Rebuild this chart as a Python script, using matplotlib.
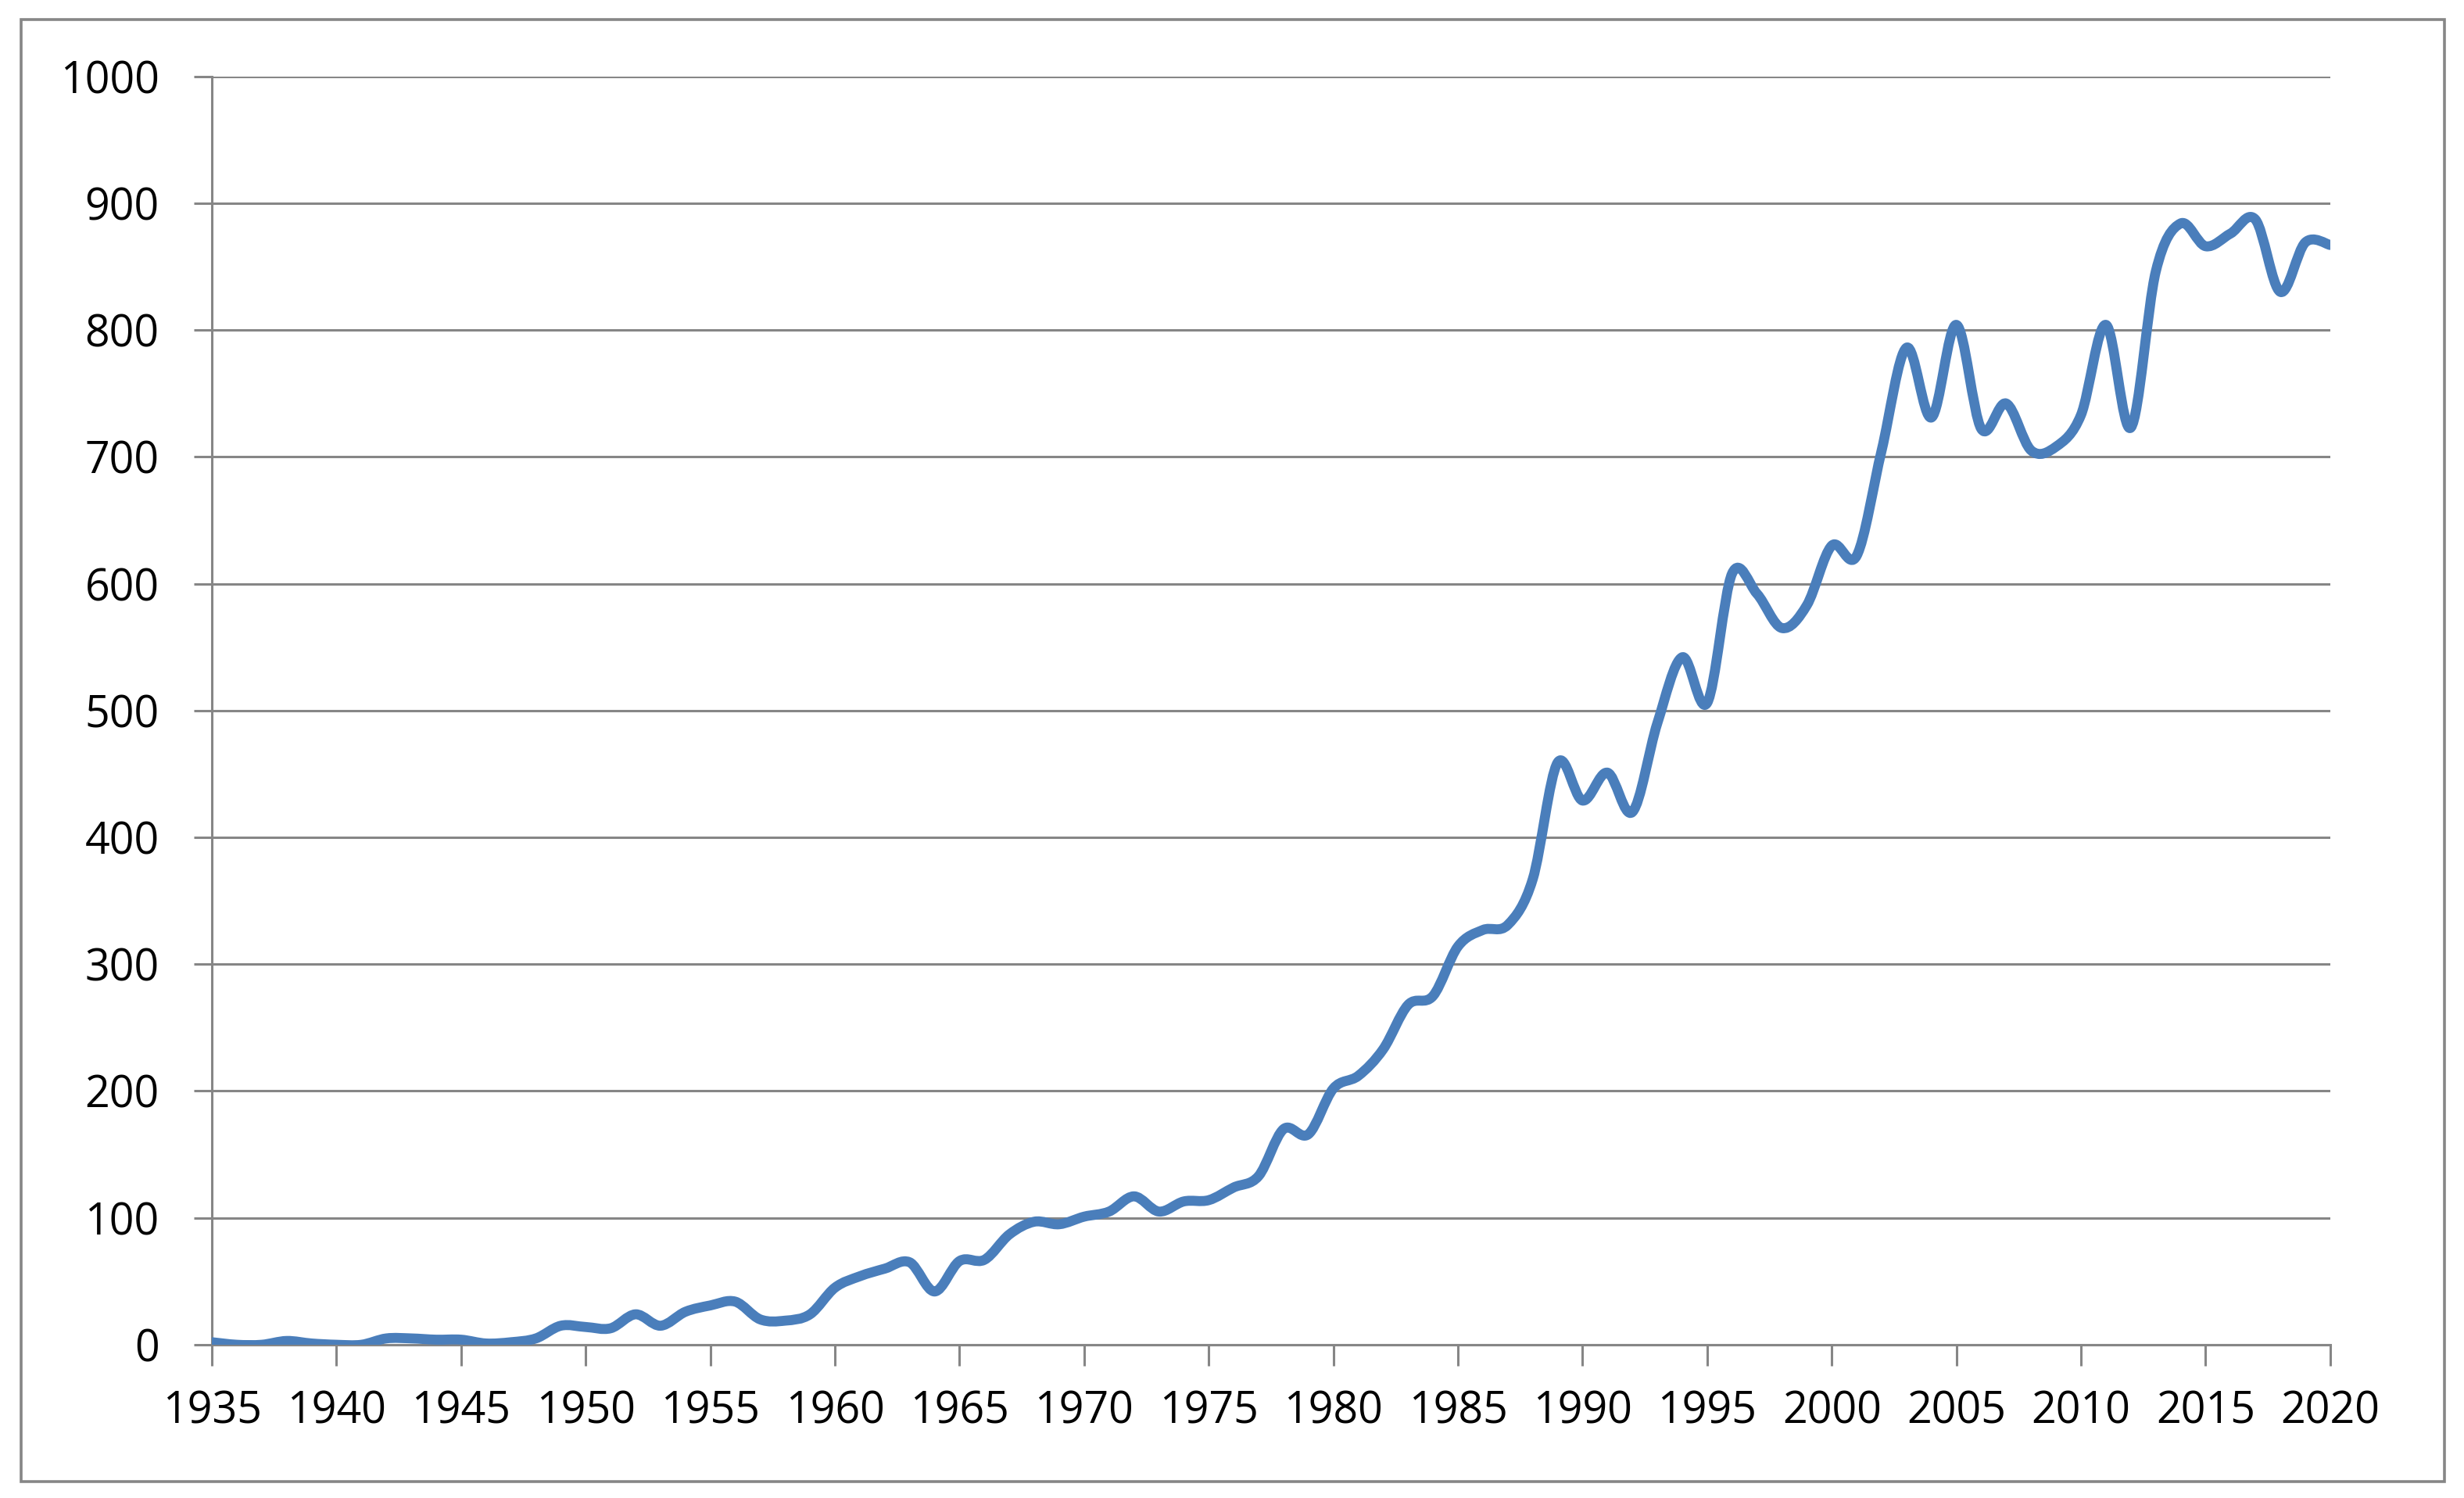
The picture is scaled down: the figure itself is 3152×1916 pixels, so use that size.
import matplotlib.pyplot as plt
from matplotlib.path import Path
from matplotlib.patches import PathPatch, Rectangle
import numpy as np

plt.rcParams['font.family'] = ['Open Sans', 'DejaVu Sans']

years = list(range(1935, 2021))
values = [2, 0, 0, 3, 1, 0, 0, 5, 5, 4,
          4, 1, 2, 5, 15, 14, 13, 24, 15, 26,
          31, 34, 20, 19, 24, 45, 54, 60, 65, 42,
          66, 67, 87, 97, 95, 101, 105, 117, 105, 113,
          114, 124, 133, 170, 166, 202, 212, 233, 268, 275,
          314, 327, 331, 367, 459, 429, 451, 420, 490, 542,
          506, 608, 592, 565, 583, 630, 622, 705, 786, 731,
          804, 722, 742, 705, 708, 733, 804, 723, 846, 884,
          866, 876, 887, 830, 869, 867]
x_ticks = list(range(1935, 2021, 5))
y_ticks = list(range(0, 1001, 100))

grey = '#868686'
blue = '#4a7ebb'

fig = plt.figure(figsize=(15.76, 9.58), dpi=200)
ax = fig.add_axes([0.086, 0.1023, 0.8597, 0.8468])

# smoothed line like excel (catmull-rom bezier)
pts = np.column_stack([years, values]).astype(float)
ext = np.vstack([pts[0], pts, pts[-1]])
verts = [tuple(pts[0])]
codes = [Path.MOVETO]
for i in range(1, len(ext) - 2):
    p0, p1, p2, p3 = ext[i - 1], ext[i], ext[i + 1], ext[i + 2]
    c1 = p1 + (p2 - p0) / 6
    c2 = p2 - (p3 - p1) / 6
    verts += [tuple(c1), tuple(c2), tuple(p2)]
    codes += [Path.CURVE4] * 3
line = PathPatch(Path(verts, codes), fill=False, edgecolor=blue, lw=4.6,
                 capstyle='round', joinstyle='round', zorder=3)
ax.add_patch(line)

ax.set_xlim(1935, 2020)
ax.set_ylim(0, 1000)
ax.set_xticks(x_ticks)
ax.set_yticks(y_ticks)
ax.grid(axis='y', color=grey, lw=1.1)
ax.set_axisbelow(True)

for s in ['top', 'right']:
    ax.spines[s].set_visible(False)
for s in ['left', 'bottom']:
    ax.spines[s].set_color(grey)
    ax.spines[s].set_linewidth(1.1)

ax.tick_params(axis='y', direction='out', length=8.3, width=1.1, color=grey,
               pad=16, labelsize=20, labelcolor='black')
ax.tick_params(axis='x', direction='out', length=9.7, width=1.1, color=grey,
               pad=11, labelsize=20, labelcolor='black')

# outer chart border
fig.patches.append(Rectangle((0.0086, 0.011), 0.9835, 0.976, transform=fig.transFigure,
                             fill=False, edgecolor=grey, lw=1.3))

fig.savefig('out.png', dpi=200)
